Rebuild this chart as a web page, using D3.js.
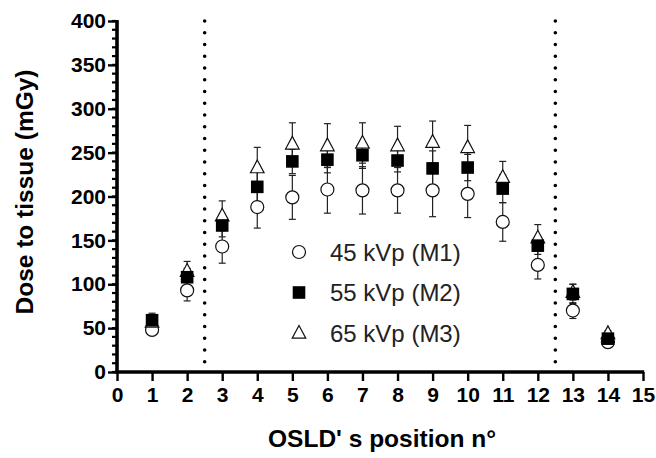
<!DOCTYPE html>
<html>
<head>
<meta charset="utf-8">
<script src="https://cdn.jsdelivr.net/npm/d3@7"></script>
<style>
  body { margin: 0; background: #fff; }
  text { font-family: "Liberation Sans", Arial, sans-serif; }
</style>
</head>
<body>
<svg id="chart" width="656" height="458"></svg>
<script>
const positions = [1, 2, 3, 4, 5, 6, 7, 8, 9, 10, 11, 12, 13, 14];

const m1 = [48, 93, 143, 188, 199, 208, 207, 207, 207, 203, 171, 122, 70, 34];
const m1Sd = [2, 12, 19, 24, 25, 27, 27, 26, 30, 27, 22, 16, 9, 2];
const m2 = [59, 108, 167, 211, 240, 242, 247, 241, 232, 233, 209, 144, 89, 38];
const m2Sd = [8, 10, 13, 18, 14, 15, 15, 13, 20, 15, 16, 10, 11, 3];
const m3 = [57, 115, 178, 233, 260, 258, 261, 258, 262, 256, 222, 153, 91, 44];
const m3Sd = [3, 11, 17, 23, 24, 25, 23, 22, 24, 25, 18, 15, 9, 3];

const seriesNames = ['45 kVp (M1)', '55 kVp (M2)', '65 kVp (M3)'];
const dividers = [2.5, 12.5];
const xTicks = d3.range(0, 16);
const yTicks = d3.range(0, 401, 50);
const yMinor = d3.range(0, 401, 10);

const svg = d3.select('#chart');
const margin = { left: 117, right: 13, top: 21, bottom: 86 };
const W = 656, H = 458;
const FONT = '"Liberation Sans", Arial, sans-serif';

const x = d3.scaleLinear().domain([0, 15]).range([margin.left, W - margin.right]);
const y = d3.scaleLinear().domain([0, 400]).range([H - margin.bottom, margin.top]);

// dotted dividers
svg.append('g').selectAll('line')
  .data(dividers)
  .enter().append('line')
  .attr('x1', d => x(d)).attr('x2', d => x(d))
  .attr('y1', y(400)).attr('y2', y(0) - 4)
  .attr('stroke', '#000')
  .attr('stroke-width', 3.6)
  .attr('stroke-linecap', 'round')
  .attr('stroke-dasharray', '0 11.75');

const series = [
  { name: seriesNames[0], values: m1, sd: m1Sd, shape: 'circle' },
  { name: seriesNames[2], values: m3, sd: m3Sd, shape: 'triangle' },
  { name: seriesNames[1], values: m2, sd: m2Sd, shape: 'square' }
];

// error bars
const errG = svg.append('g').attr('stroke', '#222').attr('stroke-width', 1.2).attr('fill', 'none');
series.forEach(s => {
  positions.forEach((p, i) => {
    const cx = x(p), hi = y(s.values[i] + s.sd[i]), lo = y(s.values[i] - s.sd[i]);
    errG.append('line').attr('x1', cx).attr('x2', cx).attr('y1', hi).attr('y2', lo);
    errG.append('line').attr('x1', cx - 3.5).attr('x2', cx + 3.5).attr('y1', hi).attr('y2', hi);
    errG.append('line').attr('x1', cx - 3.5).attr('x2', cx + 3.5).attr('y1', lo).attr('y2', lo);
  });
});

function drawMarker(g, shape, cx, cy) {
  if (shape === 'circle') {
    g.append('circle').attr('cx', cx).attr('cy', cy).attr('r', 6.5)
      .attr('fill', '#fff').attr('stroke', '#111').attr('stroke-width', 1.2);
  } else if (shape === 'square') {
    g.append('rect').attr('x', cx - 6.3).attr('y', cy - 6.3).attr('width', 12.6).attr('height', 12.6)
      .attr('fill', '#000');
  } else {
    g.append('path')
      .attr('d', `M${cx},${cy - 7.5}L${cx + 6.8},${cy + 5.2}L${cx - 6.8},${cy + 5.2}Z`)
      .attr('fill', '#fff').attr('stroke', '#111').attr('stroke-width', 1.2);
  }
}

const markG = svg.append('g');
series.forEach(s => {
  positions.forEach((p, i) => drawMarker(markG, s.shape, x(p), y(s.values[i])));
});

// axes
const yAxis = svg.append('g').attr('transform', `translate(${margin.left},0)`);
yAxis.selectAll('.minor')
  .data(yMinor)
  .enter().append('line')
  .attr('x1', -5).attr('x2', 0)
  .attr('y1', d => y(d)).attr('y2', d => y(d))
  .attr('stroke', '#000').attr('stroke-width', 2.2);
yAxis.call(d3.axisLeft(y).tickValues(yTicks).tickSize(9).tickPadding(2).tickSizeOuter(0))
  .call(g => g.select('.domain').attr('stroke-width', 3.6).attr('d', `M0,${y(400) - 1}V${y(0) + 1.8}`))
  .call(g => g.selectAll('.tick line').attr('stroke-width', 2.4))
  .call(g => g.selectAll('.tick text')
    .style('font-size', '21px').style('font-weight', 'bold').attr('fill', '#000')
    .style('font-family', FONT));

const xAxis = svg.append('g').attr('transform', `translate(0,${y(0)})`);
xAxis.call(d3.axisBottom(x).tickValues(xTicks).tickSize(9).tickPadding(6).tickSizeOuter(0))
  .call(g => g.select('.domain').attr('stroke-width', 3.6).attr('d', `M${x(0) - 1.8},0H${x(15) + 1.2}`))
  .call(g => g.selectAll('.tick line').attr('stroke-width', 2.4))
  .call(g => g.selectAll('.tick text')
    .style('font-size', '21px').style('font-weight', 'bold').attr('fill', '#000')
    .style('font-family', FONT));

// axis titles
svg.append('text')
  .attr('transform', `translate(33,192) rotate(-90)`)
  .attr('text-anchor', 'middle')
  .attr('font-size', 24.5).attr('font-weight', 'bold').attr('fill', '#000')
  .text('Dose to tissue (mGy)');

svg.append('text')
  .attr('x', 382).attr('y', 447)
  .attr('text-anchor', 'middle')
  .attr('font-size', 24.5).attr('font-weight', 'bold').attr('fill', '#000')
  .text("OSLD' s position n°");

// legend
const legendItems = [
  { name: seriesNames[0], shape: 'circle' },
  { name: seriesNames[1], shape: 'square' },
  { name: seriesNames[2], shape: 'triangle' }
];
const legend = svg.append('g');
legendItems.forEach((d, i) => {
  const ly = 252 + i * 40.5;
  drawMarker(legend, d.shape, 299, ly);
  legend.append('text')
    .attr('x', 330).attr('y', ly + 8.5)
    .attr('font-size', 24).attr('fill', '#222')
    .text(d.name);
});
</script>
</body>
</html>
